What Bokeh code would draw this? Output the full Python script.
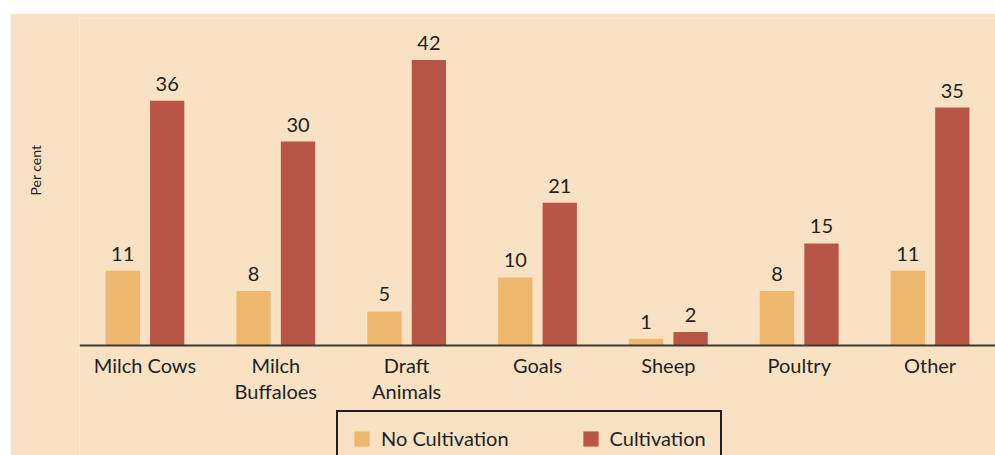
from bokeh.plotting import figure
from bokeh.models import ColumnDataSource, Legend, LegendItem, Spacer, Span, Title, FixedTicker
from bokeh.layouts import column, row
from bokeh.transform import dodge
from bokeh.core.properties import value
from bokeh.embed import file_html
from bokeh.resources import INLINE

categories = ["Milch Cows", "Milch\nBuffaloes", "Draft\nAnimals", "Goals", "Sheep", "Poultry", "Other"]
no_cultivation = [11, 8, 5, 10, 1, 8, 11]
cultivation = [36, 30, 42, 21, 2, 15, 35]
y_label = "Per cent"

BG = "#F9E2C3"
YELLOW = "#EDB76D"
RED = "#B85547"
TXT = "#231F20"
FONT = "Lato"

src = ColumnDataSource(dict(
    cat=categories,
    nc=no_cultivation,
    c=cultivation,
    nc_t=[str(v) for v in no_cultivation],
    c_t=[str(v) for v in cultivation],
    zero=[0] * len(categories),
))

p = figure(x_range=categories, y_range=(-16.18, 48.09), width=985, height=442,
           output_backend="svg", toolbar_location=None,
           min_border_left=69, min_border_right=0, min_border_top=5, min_border_bottom=0)
p.background_fill_color = BG
p.border_fill_color = BG
p.outline_line_color = None
p.xgrid.grid_line_color = None
p.ygrid.grid_line_color = None
p.x_range.range_padding = 0
p.xaxis.visible = False

# invisible y axis used only as a spacer between the frame and the y title
ya = p.yaxis[0]
ya.ticker = FixedTicker(ticks=[0])
ya.major_label_overrides = {0: ""}
ya.axis_line_color = None
ya.major_tick_line_color = None
ya.minor_tick_line_color = None
ya.major_label_text_font_size = "1px"
ya.major_label_standoff = 0
ya.major_tick_in = 0
ya.major_tick_out = 36

r1 = p.vbar(x=dodge("cat", -0.17, range=p.x_range), top="nc", width=0.262, source=src,
            fill_color=YELLOW, line_color=None)
r2 = p.vbar(x=dodge("cat", 0.17, range=p.x_range), top="c", width=0.262, source=src,
            fill_color=RED, line_color=None)

for off, col, tcol in [(-0.17, "nc", "nc_t"), (0.17, "c", "c_t")]:
    p.text(x=dodge("cat", off, range=p.x_range), y=col, text=tcol, source=src,
           text_align="center", text_baseline="bottom", y_offset=-10,
           text_font=value(FONT), text_font_size="20px", text_color=TXT)

# category labels under the baseline
p.text(x="cat", y="zero", text="cat", source=src, text_align="center", text_baseline="top",
       y_offset=8, text_font=value(FONT), text_font_size="20px", text_color=TXT,
       text_line_height=1.05)

p.add_layout(Span(location=0, dimension="width", line_color="#3A3A3A", line_width=2))

ytitle = Title(text=y_label, align="left", offset=260, standoff=0,
               text_font=FONT, text_font_size="14px", text_font_style="normal",
               text_color=TXT)
p.add_layout(ytitle, "left")

legend = Legend(items=[LegendItem(label="No Cultivation", renderers=[r1]),
                       LegendItem(label="Cultivation", renderers=[r2])],
                orientation="horizontal", location=(257, -11))
legend.border_line_color = TXT
legend.border_line_alpha = 1
legend.border_line_width = 2
legend.background_fill_color = BG
legend.background_fill_alpha = 1
legend.label_text_font = FONT
legend.label_text_font_size = "20px"
legend.label_text_color = TXT
legend.glyph_width = 19
legend.glyph_height = 19
legend.label_standoff = 10
legend.spacing = 72
legend.padding = 14
legend.margin = 0
p.add_layout(legend, "center")

layout = column(Spacer(width=10, height=13), row(Spacer(width=10, height=442), p))
open("out.html", "w").write(file_html(layout, INLINE))
